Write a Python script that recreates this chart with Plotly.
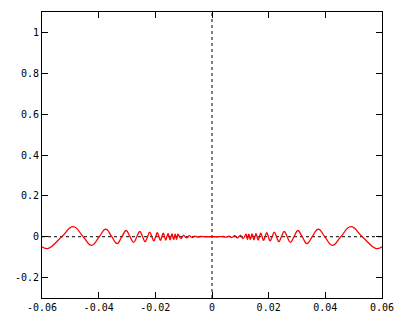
import plotly.graph_objects as go

# Curve (extrema and zero crossings), right half x >= 0
x_right = [0, 0.0025, 0.0040, 0.0050, 0.0060, 0.0070, 0.0080, 0.0090, 0.0100, 0.0110,
           0.0120, 0.01224, 0.0125, 0.01273, 0.0130, 0.01326, 0.0135, 0.01384, 0.0141, 0.01447,
           0.0148, 0.01516, 0.0155, 0.01592, 0.0163, 0.01675, 0.0172, 0.01768, 0.0182, 0.01872,
           0.0193, 0.01989, 0.0205, 0.02122, 0.0220, 0.02274, 0.0236, 0.02449, 0.0255, 0.02653,
           0.0277, 0.02894, 0.0303, 0.03183, 0.0335, 0.03537, 0.0375, 0.03979, 0.0425, 0.04547,
           0.0490, 0.05305, 0.0580, 0.0600]
y_right = [0, 0, 0.001, -0.002, 0.003, -0.004, 0.005, -0.006, 0.007, -0.008,
           0.012, 0, -0.0125, 0, 0.013, 0, -0.0135, 0, 0.0141, 0,
           -0.0148, 0, 0.0155, 0, -0.0163, 0, 0.0172, 0, -0.0182, 0,
           0.0193, 0, -0.0205, 0, 0.0220, 0, -0.0236, 0, 0.0255, 0,
           -0.0277, 0, 0.0303, 0, -0.0335, 0, 0.0374, 0, -0.0424, 0,
           0.0490, 0, -0.0580, -0.0490]

# Left half x <= 0 (ascending)
x_left = [-0.0600, -0.0580, -0.05305, -0.0490, -0.04547, -0.0425, -0.03979, -0.0375, -0.03537, -0.0335,
          -0.03183, -0.0303, -0.02894, -0.0277, -0.02653, -0.0255, -0.02449, -0.0236, -0.02274, -0.0220,
          -0.02122, -0.0205, -0.01989, -0.0193, -0.01872, -0.0182, -0.01768, -0.0172, -0.01675, -0.0163,
          -0.01592, -0.0155, -0.01516, -0.0148, -0.01447, -0.0141, -0.01384, -0.0135, -0.01326, -0.0130,
          -0.01273, -0.0125, -0.01224, -0.0120, -0.0110, -0.0100, -0.0090, -0.0080, -0.0070, -0.0060,
          -0.0050, -0.0040, -0.0025]
y_left = [-0.0490, -0.0580, 0, 0.0490, 0, -0.0424, 0, 0.0374, 0, -0.0335,
          0, 0.0303, 0, -0.0277, 0, 0.0255, 0, -0.0236, 0, 0.0220,
          0, -0.0205, 0, 0.0193, 0, -0.0182, 0, 0.0172, 0, -0.0163,
          0, 0.0155, 0, -0.0148, 0, 0.0141, 0, -0.0135, 0, 0.013,
          0, -0.0125, 0, 0.012, -0.008, 0.007, -0.006, 0.005, -0.004, 0.003,
          -0.002, 0.001, 0]

x_ticks = [-0.06, -0.04, -0.02, 0, 0.02, 0.04, 0.06]
x_tick_text = ["-0.06", "-0.04", "-0.02", "0", "0.02", "0.04", "0.06"]
y_ticks = [-0.2, 0, 0.2, 0.4, 0.6, 0.8, 1]
y_tick_text = ["-0.2", "0", "0.2", "0.4", "0.6", "0.8", "1"]
x_range = [-0.06, 0.06]
y_range = [-0.3, 1.1]

xs = x_left + x_right
ys = y_left + y_right

fig = go.Figure()
fig.add_trace(go.Scatter(x=xs, y=ys, mode="lines",
                         line=dict(color="#ff0000", width=1.3, shape="spline", smoothing=1.3),
                         showlegend=False, hoverinfo="skip"))

# dotted zero axes
fig.add_shape(type="line", xref="x", yref="paper", x0=0, x1=0, y0=0, y1=1,
              line=dict(color="black", width=1, dash="3px,3px"), layer="below")
fig.add_shape(type="line", xref="paper", yref="y", x0=0, x1=1, y0=0, y1=0,
              line=dict(color="black", width=1, dash="3px,3px"), layer="below")

axis_common = dict(showgrid=False, zeroline=False, showline=True, linecolor="black",
                   linewidth=1, mirror="ticks", ticks="inside", ticklen=6,
                   tickcolor="black", tickwidth=1, automargin=False,
                   tickfont=dict(family="DejaVu Sans Mono", size=10, color="black"))

fig.update_xaxes(range=x_range, tickmode="array", tickvals=x_ticks, ticktext=x_tick_text,
                 **axis_common)
fig.update_yaxes(range=y_range, tickmode="array", tickvals=y_ticks, ticktext=y_tick_text,
                 **axis_common)

fig.update_layout(width=400, height=324, margin=dict(l=42, r=18, t=12, b=26),
                  paper_bgcolor="white", plot_bgcolor="white")

fig.write_html("out.html", config={"displayModeBar": False},
               post_script="document.body.style.margin='0';document.body.style.overflow='hidden';")
